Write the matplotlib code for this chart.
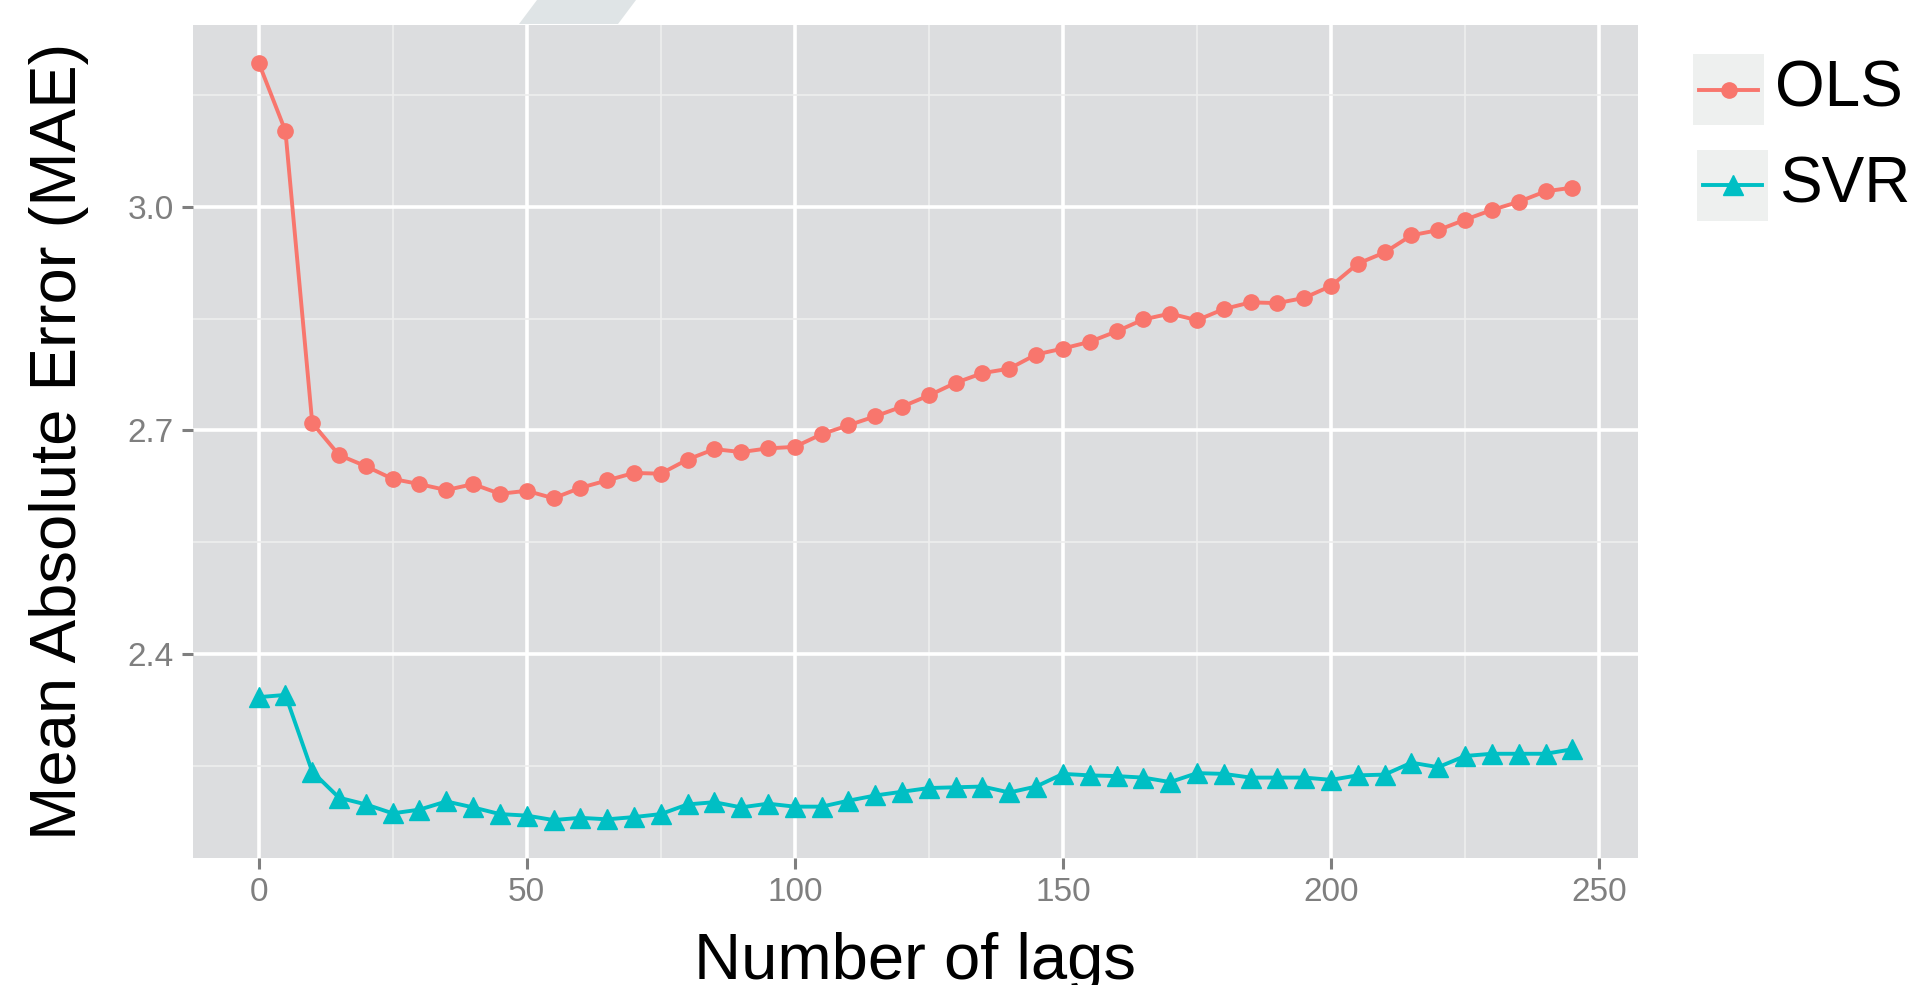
import numpy as np
import matplotlib.pyplot as plt
from matplotlib.patches import Rectangle, Polygon
from matplotlib.lines import Line2D
from matplotlib.ticker import MultipleLocator

plt.rcParams['font.family'] = ['Liberation Sans', 'DejaVu Sans']

lags = list(range(0, 250, 5))

ols_mae = [3.194, 3.102, 2.710, 2.667, 2.652, 2.635, 2.628, 2.620, 2.628, 2.615,
           2.619, 2.609, 2.623, 2.633, 2.643, 2.642, 2.661, 2.675, 2.671, 2.676,
           2.678, 2.695, 2.707, 2.719, 2.732, 2.747, 2.764, 2.777, 2.783, 2.802,
           2.810, 2.819, 2.833, 2.849, 2.857, 2.848, 2.863, 2.872, 2.871, 2.878,
           2.894, 2.924, 2.939, 2.962, 2.969, 2.983, 2.996, 3.007, 3.021, 3.026]

svr_mae = [2.342, 2.345, 2.242, 2.207, 2.198, 2.186, 2.191, 2.202, 2.194, 2.185,
           2.183, 2.177, 2.180, 2.178, 2.181, 2.185, 2.198, 2.201, 2.194, 2.199,
           2.195, 2.195, 2.203, 2.210, 2.215, 2.220, 2.221, 2.222, 2.214, 2.222,
           2.239, 2.237, 2.236, 2.234, 2.228, 2.240, 2.239, 2.234, 2.234, 2.234,
           2.231, 2.237, 2.238, 2.254, 2.248, 2.263, 2.266, 2.266, 2.266, 2.272]

series_names = ['OLS', 'SVR']
colors = ['#F8766D', '#00BFC4']
x_ticks = [0, 50, 100, 150, 200, 250]
y_ticks = [2.4, 2.7, 3.0]

fig = plt.figure(figsize=(19.14, 9.85), dpi=100)
ax = fig.add_axes([0.1008, 0.129, 0.755, 0.846])
ax.set_facecolor('#dcdddf')
for s in ax.spines.values():
    s.set_visible(False)

# ggplot-style 5% expansion
xr = max(lags) - min(lags)
ax.set_xlim(min(lags) - 0.05 * xr, max(lags) + 0.05 * xr)
ymin = min(min(ols_mae), min(svr_mae))
ymax = max(max(ols_mae), max(svr_mae))
yr = ymax - ymin
ax.set_ylim(ymin - 0.05 * yr, ymax + 0.05 * yr)

ax.set_xticks(x_ticks)
ax.set_yticks(y_ticks)
ax.set_yticklabels([f'{v:.1f}' for v in y_ticks])
ax.xaxis.set_minor_locator(MultipleLocator(25))
ax.yaxis.set_minor_locator(MultipleLocator(0.15))
ax.grid(which='major', color='white', linewidth=2.6)
ax.grid(which='minor', color='#eeeeee', linewidth=1.2)
ax.set_axisbelow(True)
ax.tick_params(which='major', length=8, width=2.2, color='#7f7f7f',
               labelcolor='#7f7f7f', labelsize=24, pad=6)
ax.tick_params(which='minor', length=0)

ax.plot(lags, ols_mae, color=colors[0], marker='o', markersize=11, linewidth=2.8)
ax.plot(lags, svr_mae, color=colors[1], marker='^', markersize=14, linewidth=2.8)

fig.text(0.4783, 0.006, 'Number of lags', ha='center', va='baseline', fontsize=47)
fig.text(0.031, 0.552, 'Mean Absolute Error (MAE)', ha='center', va='center',
         rotation=90, fontsize=47)

# legend drawn by hand, ggplot look
key_w, key_h = 71 / 1914, 71 / 985
keys = [(1693 / 1914, 1 - 125 / 985), (1697 / 1914, 1 - 221 / 985)]
markers = ['o', '^']
msizes = [11, 14]
for (kx, ky), name, c, m, ms in zip(keys, series_names, colors, markers, msizes):
    fig.add_artist(Rectangle((kx, ky), key_w, key_h, transform=fig.transFigure,
                             facecolor='#eef0ef', edgecolor='none'))
    fig.add_artist(Line2D([kx + 0.003, kx + key_w - 0.003], [ky + key_h / 2] * 2,
                          transform=fig.transFigure, color=c, linewidth=2.8))
    fig.add_artist(Line2D([kx + key_w / 2], [ky + key_h / 2], transform=fig.transFigure,
                          color=c, marker=m, markersize=ms, linestyle='none'))
    fig.text(kx + key_w + 0.006, ky + key_h / 2, name, ha='left', va='center', fontsize=46)

# faint artefact seen in the source image
fig.add_artist(Polygon([[519 / 1914, 1 - 24 / 985], [537 / 1914, 1.0],
                        [636 / 1914, 1.0], [618 / 1914, 1 - 24 / 985]],
                       closed=True, transform=fig.transFigure,
                       facecolor='#dfe4e6', edgecolor='none'))

fig.savefig('out.png', dpi=100)
